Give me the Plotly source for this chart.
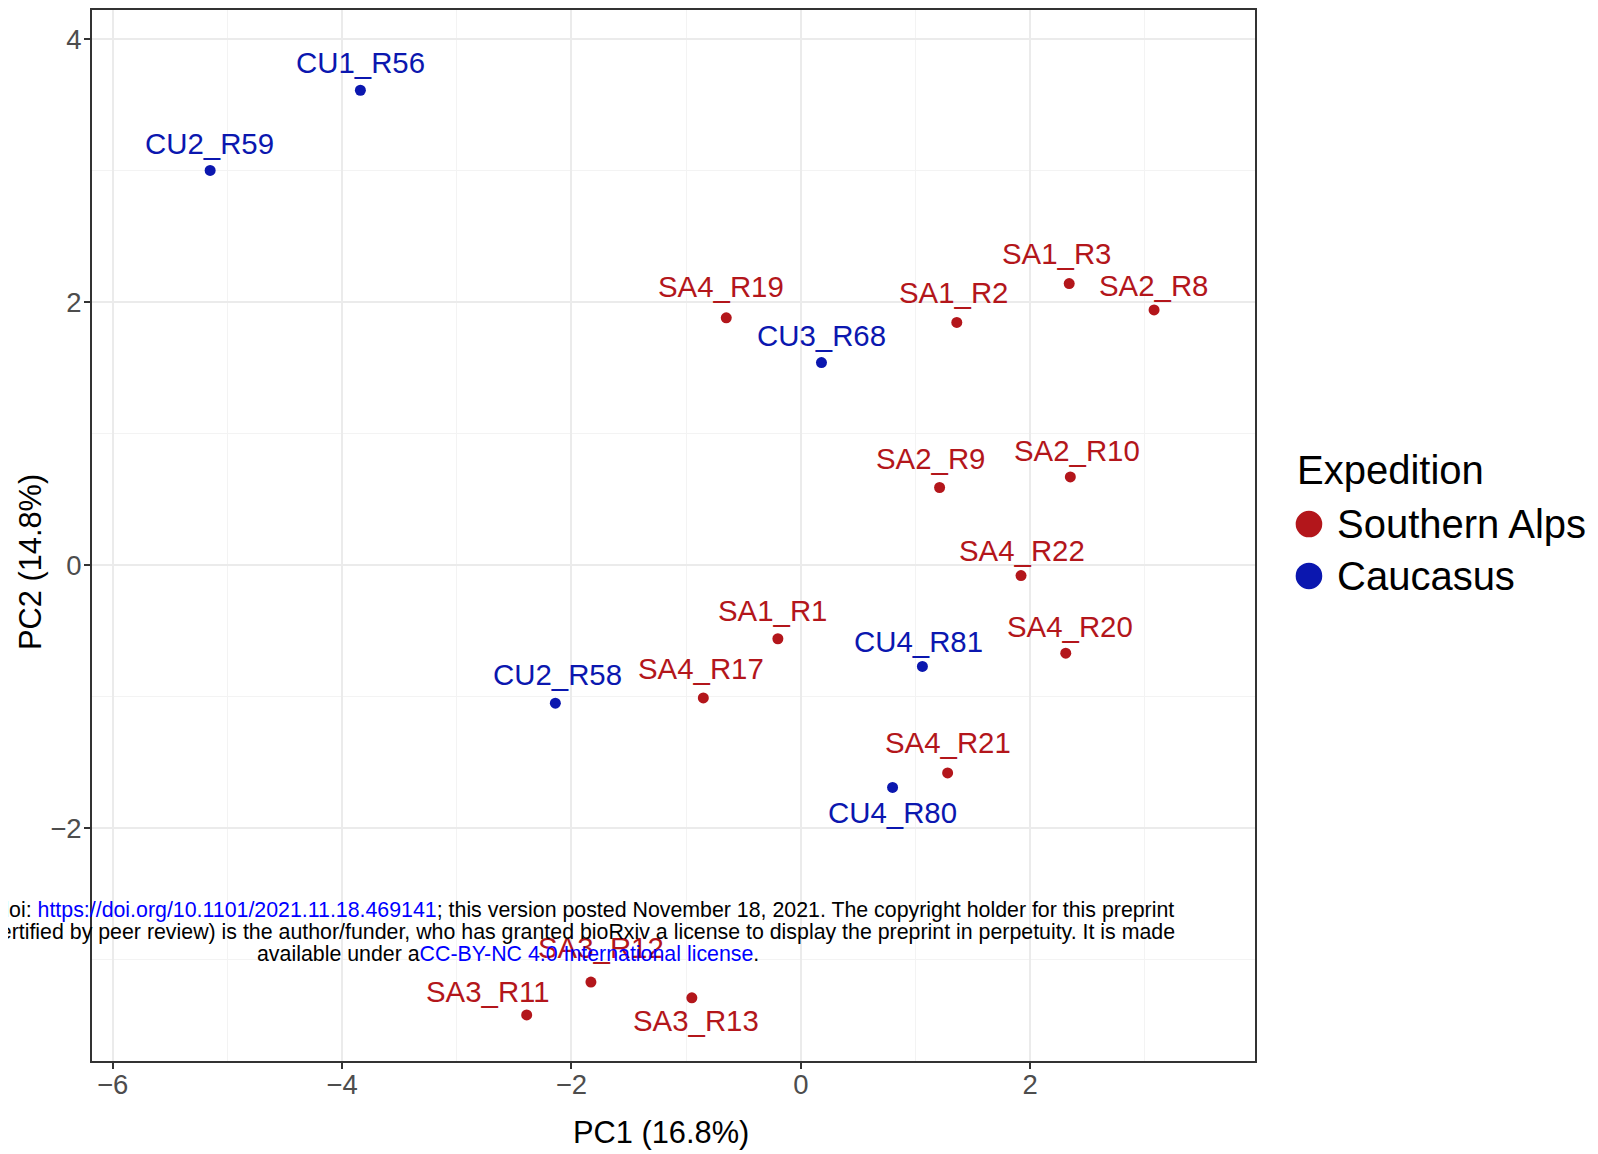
import plotly.graph_objects as go

# ---- data ----
samples = ["CU1_R56", "CU2_R59", "SA4_R19", "SA1_R2", "SA1_R3", "SA2_R8", "CU3_R68",
           "SA2_R9", "SA2_R10", "SA4_R22", "SA1_R1", "SA4_R20", "CU4_R81", "CU2_R58",
           "SA4_R17", "SA4_R21", "CU4_R80", "SA3_R12", "SA3_R11", "SA3_R13"]
pc1 = [-3.84, -5.15, -0.65, 1.36, 2.34, 3.08, 0.18,
       1.21, 2.35, 1.92, -0.20, 2.31, 1.06, -2.14,
       -0.85, 1.28, 0.80, -1.83, -2.39, -0.95]
pc2 = [3.61, 3.00, 1.88, 1.845, 2.14, 1.94, 1.54,
       0.59, 0.67, -0.08, -0.56, -0.67, -0.77, -1.05,
       -1.01, -1.58, -1.69, -3.17, -3.42, -3.29]
expedition = ["Caucasus", "Caucasus", "Southern Alps", "Southern Alps", "Southern Alps",
              "Southern Alps", "Caucasus", "Southern Alps", "Southern Alps", "Southern Alps",
              "Southern Alps", "Southern Alps", "Caucasus", "Caucasus", "Southern Alps",
              "Southern Alps", "Caucasus", "Southern Alps", "Southern Alps", "Southern Alps"]
groups = ["Southern Alps", "Caucasus"]
x_ticks = [-6, -4, -2, 0, 2]
x_ticktext = ["\u22126", "\u22124", "\u22122", "0", "2"]
y_ticks = [-2, 0, 2, 4]
y_ticktext = ["\u22122", "0", "2", "4"]

# ---- style ----
FONT = "Liberation Sans, Arial, Helvetica"
colors = {"Southern Alps": "#B3161B", "Caucasus": "#0B17AF"}
# label offsets in pixels (dx right, dy up) - repel-like placement
label_dx = [0, -1, -5, -3, -13, -1, 0, -9, 7, 1, -5, 4, -4, 2, -2, 0, 0, 10, -39, 4]
label_dy = [28, 27, 31, 30, 30, 24, 27, 29, 26, 25, 28, 27, 25, 29, 29, 30, -25, 35, 23, -23]

fig = go.Figure()
for g in groups:
    idx = [i for i, e in enumerate(expedition) if e == g]
    fig.add_trace(go.Scatter(
        x=[pc1[i] for i in idx], y=[pc2[i] for i in idx], mode="markers",
        marker=dict(color=colors[g], size=11), showlegend=False, name=g,
        hoverinfo="text", text=[samples[i] for i in idx]))

annotations = []
for i, s in enumerate(samples):
    annotations.append(dict(x=pc1[i], y=pc2[i], xref="x", yref="y", text=s, showarrow=False,
                            xshift=label_dx[i], yshift=label_dy[i],
                            font=dict(size=29.4, color=colors[expedition[i]], family=FONT)))

# axis titles
annotations.append(dict(x=0.4895, y=-0.0685, xref="paper", yref="paper", text="PC1 (16.8%)",
                        showarrow=False, xanchor="center", yanchor="middle",
                        font=dict(size=30.8, color="black", family=FONT)))
annotations.append(dict(x=-0.0529, y=0.4752, xref="paper", yref="paper", text="PC2 (14.8%)",
                        showarrow=False, xanchor="center", yanchor="middle", textangle=-90,
                        font=dict(size=30.8, color="black", family=FONT)))

# legend (drawn manually so that the keys can be large)
leg_x_key = 1.0464
leg_x_text = 1.0690
leg_y = [0.5109, 0.4615]
annotations.append(dict(x=1.0340, y=0.5623, xref="paper", yref="paper", text="Expedition",
                        showarrow=False, xanchor="left", yanchor="middle",
                        font=dict(size=40, color="black", family=FONT)))
shapes = []
for g, yy in zip(groups, leg_y):
    shapes.append(dict(type="circle", xref="paper", yref="paper", xsizemode="pixel",
                       ysizemode="pixel", xanchor=leg_x_key, yanchor=yy,
                       x0=-13.3, x1=13.3, y0=-13.3, y1=13.3,
                       fillcolor=colors[g], line=dict(width=0)))
    annotations.append(dict(x=leg_x_text, y=yy, xref="paper", yref="paper", text=g,
                            showarrow=False, xanchor="left", yanchor="middle",
                            font=dict(size=40, color="black", family=FONT)))

# bioRxiv stamp
stamp_font = dict(size=21.35, color="black", family=FONT)
stamp = [
    ("bioRxiv preprint doi: <span style='color:#0000FF'>https://doi.org/10.1101/2021.11.18.469141</span>; "
     "this version posted November 18, 2021. The copyright holder for this preprint", 0.1437),
    ("(which was not certified by peer review) is the author/funder, who has granted bioRxiv a license "
     "to display the preprint in perpetuity. It is made", 0.1227),
    ("available under a<span style='color:#0000FF'>CC-BY-NC 4.0 International license</span>.", 0.1018),
]
for t, yy in stamp:
    annotations.append(dict(x=0.3578, y=yy, xref="paper", yref="paper", text=t, showarrow=False,
                            xanchor="center", yanchor="middle", font=stamp_font))

axis_common = dict(
    showline=True, linecolor="#333333", linewidth=2, mirror=True,
    ticks="outside", ticklen=6, tickcolor="#333333", tickwidth=1.5,
    showgrid=True, gridcolor="#EBEBEB", gridwidth=2, zeroline=False,
    tickfont=dict(size=27.5, color="#4D4D4D", family=FONT),
    minor=dict(dtick=1, showgrid=True, gridcolor="#F3F3F3", gridwidth=1, ticks=""),
)

fig.update_layout(
    width=1590, height=1146,
    margin=dict(l=84, r=343, t=2, b=93, autoexpand=False),
    paper_bgcolor="white", plot_bgcolor="white",
    font=dict(family=FONT, color="black"),
    xaxis=dict(range=[-6.18, 3.96], tickvals=x_ticks, ticktext=x_ticktext,
               ticklabelstandoff=-8, **axis_common),
    yaxis=dict(range=[-3.77, 4.22], tickvals=y_ticks, ticktext=y_ticktext,
               ticklabelstandoff=-3, **axis_common),
    annotations=annotations,
    shapes=shapes,
    showlegend=False,
)
fig.update_xaxes(minor_tick0=-5)
fig.update_yaxes(minor_tick0=-3)

fig.write_html("out.html")
